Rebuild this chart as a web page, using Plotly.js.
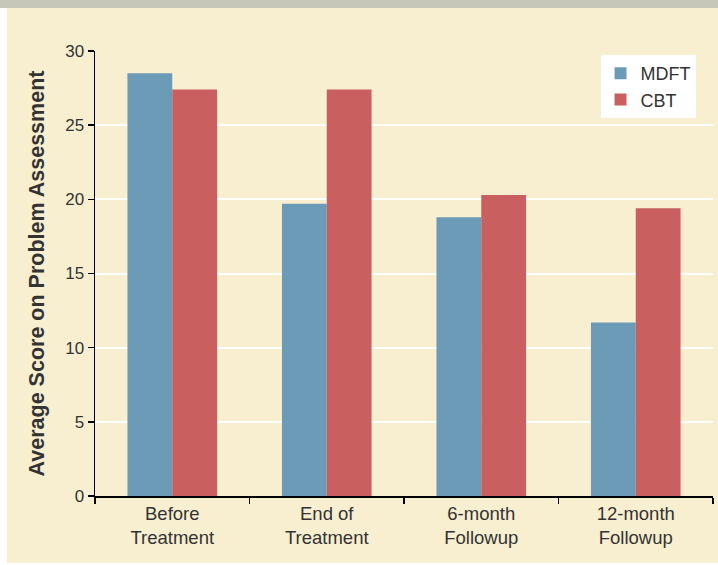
<!DOCTYPE html>
<html>
<head>
<meta charset="utf-8">
<script src="https://cdn.plot.ly/plotly-3.0.1.min.js"></script>
<style>
html,body{margin:0;padding:0;background:#ffffff;}
#wrap{position:relative;width:718px;height:565px;overflow:hidden;background:#ffffff;}
#band{position:absolute;left:0;top:0;width:718px;height:8px;background:#c6c7b9;}
#chart{position:absolute;left:7px;top:8px;width:711px;height:555px;}
</style>
</head>
<body>
<div id="wrap">
<div id="band"></div>
<div id="chart"></div>
</div>
<script>
const categories = ["Before<br>Treatment", "End of<br>Treatment", "6-month<br>Followup", "12-month<br>Followup"];
const mdft = [28.5, 19.7, 18.8, 11.7];
const cbt = [27.4, 27.4, 20.3, 19.4];
const yTicks = [0, 5, 10, 15, 20, 25, 30];

const traces = [
  {type: "bar", name: "MDFT", x: categories, y: mdft, marker: {color: "#6b9bb7"}},
  {type: "bar", name: "CBT", x: categories, y: cbt, marker: {color: "#c95f5e"}}
];

const layout = {
  width: 711, height: 555,
  paper_bgcolor: "#f8efd0",
  plot_bgcolor: "#f8efd0",
  margin: {l: 88, r: 5, t: 43, b: 67},
  barmode: "group",
  bargap: 0.42,
  bargroupgap: 0,
  font: {family: "Liberation Sans, Arial, sans-serif", color: "#333333"},
  showlegend: true,
  legend: {
    x: 0.818, y: 0.991, xanchor: "left", yanchor: "top",
    bgcolor: "#ffffff", borderwidth: 0,
    font: {size: 18, color: "#333333"},
    itemwidth: 30
  },
  xaxis: {
    type: "category",
    showline: true, linecolor: "#000000", linewidth: 1.5,
    ticks: "outside", tickson: "boundaries", ticklen: 6, tickcolor: "#000000", tickwidth: 1.5,
    tickfont: {size: 18.5, color: "#333333"},
    showgrid: false
  },
  yaxis: {
    range: [0, 30],
    tickvals: yTicks,
    showline: true, linecolor: "#000000", linewidth: 1.5,
    ticks: "outside", ticklen: 6, tickcolor: "#000000", tickwidth: 1.5,
    tickfont: {size: 17, color: "#333333"},
    showgrid: true, gridcolor: "#ffffff", gridwidth: 2,
    zeroline: false,
    title: {text: "<b>Average Score on Problem Assessment</b>", font: {size: 21.5, color: "#333333"}, standoff: 14}
  }
};

Plotly.newPlot("chart", traces, layout, {displayModeBar: false, staticPlot: true});
</script>
</body>
</html>
